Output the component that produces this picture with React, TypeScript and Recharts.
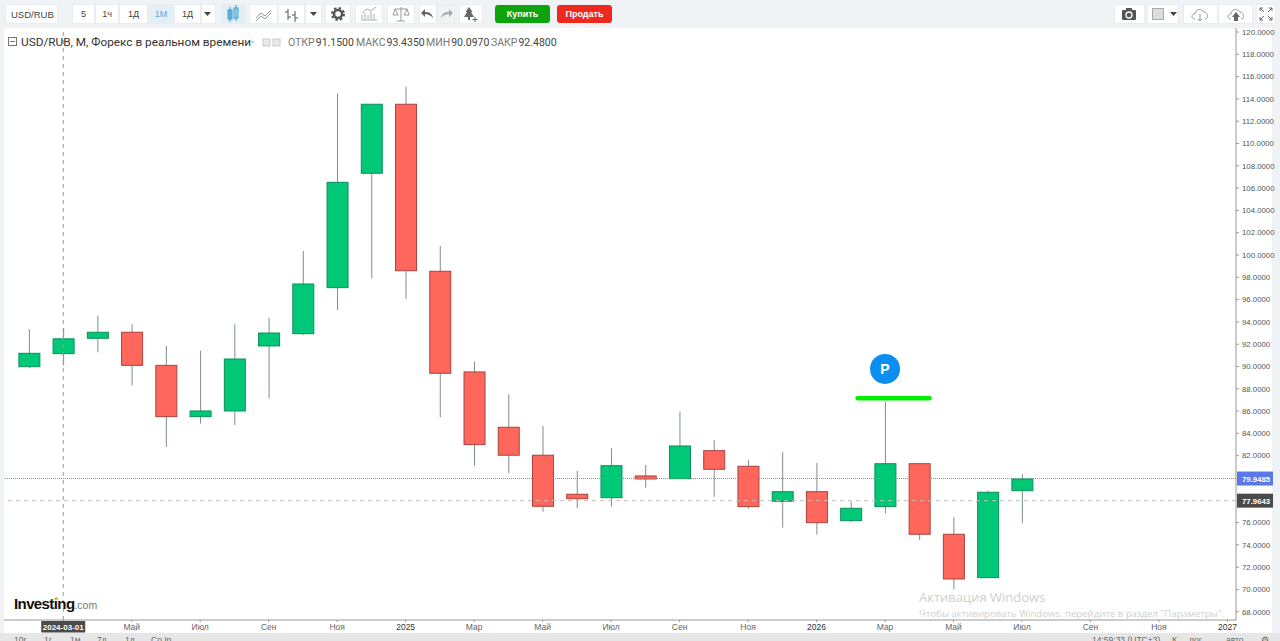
import React from 'react';
import {
    ComposedChart, Bar, XAxis, YAxis, ReferenceLine, ReferenceDot
} from 'recharts';

// months since 2024-02
const monthIndex = [0, 1, 2, 3, 4, 5, 6, 7, 8, 9, 10, 11, 12, 13, 14, 15, 16, 17, 18, 19, 20, 21, 22, 23, 24, 25, 26, 27, 28, 29];
const opens = [89.98, 91.15, 92.53, 93.07, 90.10, 85.50, 86.01, 91.84, 92.94, 97.07, 107.33, 113.52, 98.54, 89.51, 84.55, 82.04, 78.54, 78.23, 80.18, 79.94, 82.45, 81.05, 77.91, 78.77, 76.17, 77.43, 81.28, 74.95, 71.06, 78.86];
const highs = [93.34, 93.435, 94.56, 93.78, 91.84, 91.42, 93.78, 94.38, 100.36, 114.50, 113.52, 115.09, 100.81, 90.43, 87.51, 84.66, 80.63, 82.66, 81.17, 85.95, 83.41, 81.61, 82.30, 81.35, 77.87, 86.84, 81.28, 76.48, 78.86, 80.33];
const lows = [89.87, 90.097, 91.27, 88.31, 82.78, 84.87, 84.75, 87.15, 92.83, 95.07, 97.91, 96.05, 85.44, 81.10, 80.42, 76.98, 77.28, 77.43, 79.13, 79.94, 78.30, 77.25, 75.54, 74.91, 76.03, 76.83, 74.44, 70.02, 71.06, 75.94];
const closes = [91.18, 92.48, 93.07, 90.10, 85.50, 86.01, 90.67, 93.00, 97.40, 106.52, 113.52, 98.59, 89.39, 82.99, 82.04, 77.46, 78.14, 81.10, 79.91, 82.87, 80.78, 77.43, 78.77, 75.99, 77.28, 81.28, 74.95, 70.94, 78.72, 79.91];

const xTicks = [1, 3, 5, 7, 9, 11, 13, 15, 17, 19, 21, 23, 25, 27, 29, 31, 33, 35];
const xLabels = ['2024-03-01', 'Май', 'Июл', 'Сен', 'Ноя', '2025', 'Мар', 'Май', 'Июл', 'Сен', 'Ноя', '2026', 'Мар', 'Май', 'Июл', 'Сен', 'Ноя', '2027'];
// 78 and 80 sit under the price tags
const yTicks = [68, 70, 72, 74, 76, 82, 84, 86, 88, 90, 92, 94, 96, 98, 100, 102, 104, 106, 108, 110, 112, 114, 116, 118, 120];

const lastPrice = 79.9485;
const crossPrice = 77.9643;
const crossMonth = 1;
const signalPrice = 87.16;
const signalFrom = 24.2;
const signalTo = 26.3;
const markerMonth = 25;
const markerPrice = 89.78;

const candles = monthIndex.map((m, i) => ({
    m, open: opens[i], high: highs[i], low: lows[i], close: closes[i], range: [lows[i], highs[i]]
}));

const CHART_FONT = '"Liberation Sans", Arial, sans-serif';

const Candle = (props: any) => {
    const { x, y, width, height, payload } = props;
    const k = height / (payload.high - payload.low);
    const up = payload.close >= payload.open;
    const top = y + (payload.high - Math.max(payload.open, payload.close)) * k;
    const bodyH = Math.max(Math.abs(payload.close - payload.open) * k, 1);
    const cx = x + width / 2;
    return (
        <g>
            <line x1={cx} x2={cx} y1={y} y2={y + height} stroke="#7d8f89" strokeWidth={1} />
            <rect x={x} y={top} width={width} height={bodyH}
                fill={up ? '#00c876' : '#ff675d'} stroke={up ? '#0c8f5a' : '#a8433d'} strokeWidth={1} />
        </g>
    );
};

const XTick = (props: any) => {
    const { x, y, payload } = props;
    const label = xLabels[xTicks.indexOf(payload.value)];
    if (payload.value === crossMonth) {
        return (
            <g>
                <rect x={x - 22} y={y - 3} width={44} height={11.5} fill="#4a4a4a" />
                <text x={x} y={y + 6} textAnchor="middle" fontSize={8} fontWeight="bold" fill="#fff" fontFamily={CHART_FONT}>{label}</text>
            </g>
        );
    }
    const isYear = /^\d+$/.test(label);
    return (
        <text x={x} y={y + 6} textAnchor="middle" fontSize={8.5} fill={isYear ? '#333' : '#666'} fontFamily={CHART_FONT}>{label}</text>
    );
};

const PriceTag = (color: string, value: number) => (props: any) => {
    const { viewBox } = props;
    const px = viewBox.x + viewBox.width;
    return (
        <g>
            <rect x={px + 1} y={viewBox.y - 7} width={36} height={14} fill={color} />
            <text x={px + 6} y={viewBox.y + 3} fontSize={7.8} fontWeight="bold" fill="#fff" fontFamily={CHART_FONT}>{value.toFixed(4)}</text>
        </g>
    );
};

const PLabel = (props: any) => {
    const { viewBox } = props;
    const cx = viewBox.x + viewBox.width / 2;
    const cy = viewBox.y + viewBox.height / 2;
    return <text x={cx} y={cy + 5} textAnchor="middle" fontSize={14} fontWeight="bold" fill="#fff" fontFamily={CHART_FONT}>P</text>;
};

const box = (left: number, width: number, extra: any = {}): React.CSSProperties => ({
    position: 'absolute', left, top: 4, width, height: 20, background: '#fff', border: '1px solid #e9ecf0',
    boxSizing: 'border-box', textAlign: 'center', fontSize: 9, lineHeight: '19px', color: '#444',
    fontFamily: CHART_FONT, ...extra
});

const Tri = ({ x }: { x: number }) => (
    <svg style={{ position: 'absolute', left: x, top: 12 }} width={7} height={5}><path d="M0 0 L7 0 L3.5 4 Z" fill="#444" /></svg>
);

const Icon = ({ x, children }: { x: number, children: React.ReactNode }) => (
    <svg style={{ position: 'absolute', left: x - 10, top: 4 }} width={20} height={20}>{children}</svg>
);

const Toolbar = () => (
    <div>
        <div style={box(5, 53, { textAlign: 'left', paddingLeft: 5, fontSize: 9.5 })}>USD/RUB</div>
        <div style={box(72, 23)}>5</div>
        <div style={box(95, 24)}>1ч</div>
        <div style={box(119, 29)}>1Д</div>
        <div style={box(148, 26, { background: '#e3eef5', color: '#58a9d6' })}>1М</div>
        <div style={box(174, 27)}>1Д</div>
        <div style={box(201, 15)} />
        <Tri x={204} />

        <div style={box(221, 25, { background: '#e3eef5' })} />
        <Icon x={233}>
            <rect x={5} y={6} width={4} height={9} fill="#7fc4e8" stroke="#3d9bd0" />
            <rect x={11} y={4} width={4} height={10} fill="#cde8f6" stroke="#3d9bd0" />
            <path d="M7 3V18 M13 1V17" stroke="#3d9bd0" />
        </Icon>
        <div style={box(249, 29)} />
        <Icon x={264}><path d="M2 14 L7 9 L11 12 L17 6 M2 17 L7 12 L11 15 L17 9" stroke="#999" fill="none" /></Icon>
        <div style={box(278, 27)} />
        <Icon x={292}><path d="M6 16V5 M3 8H6 M6 13H9 M13 18V7 M10 11H13 M13 14H16" stroke="#555" fill="none" /></Icon>
        <div style={box(305, 17)} />
        <Tri x={310} />
        <div style={box(325, 26)} />
        <Icon x={338}>
            <circle cx={10} cy={10} r={4} fill="none" stroke="#555" strokeWidth={2.5} />
            <circle cx={10} cy={10} r={6} fill="none" stroke="#555" strokeWidth={2} strokeDasharray="2.5 2.2" />
        </Icon>
        <div style={box(355, 28)} />
        <Icon x={369}><path d="M2 16H18 M3 15V11 M6 15V9 M9 15V11 M12 15V8 M15 15V10 M3 9L8 5L12 7L17 3" stroke="#aaa" fill="none" /></Icon>
        <div style={box(387, 28)} />
        <Icon x={401}><path d="M10 3V17 M6 17H14 M4 5H16 M4 5L2 11H7Z M16 5L13 11H18Z" stroke="#999" fill="none" /></Icon>
        <div style={box(419, 18)} />
        <Icon x={428}><path d="M15 14C14 9 11 8 7 8V5L3 9L7 13V10C10 10 12 11 15 14Z" fill="#666" /></Icon>
        <div style={box(437, 18, { background: '#f0f3f6' })} />
        <Icon x={446}><path d="M5 14C6 9 9 8 13 8V5L17 9L13 13V10C10 10 8 11 5 14Z" fill="#aaa" /></Icon>
        <div style={box(459, 24)} />
        <Icon x={471}><path d="M8 3L11.5 8H10L13 13H3L6 8H4.5Z M7 13H9V16H7Z" fill="#666" /><path d="M14 13V18 M11.5 15.5H16.5" stroke="#666" /></Icon>

        <div style={box(495, 55, { top: 5, height: 18, background: '#0ca30c', border: 'none', borderRadius: 3, color: '#fff', fontWeight: 'bold', lineHeight: '18px' })}>Купить</div>
        <div style={box(557, 55, { top: 5, height: 18, background: '#ee2a1f', border: 'none', borderRadius: 3, color: '#fff', fontWeight: 'bold', lineHeight: '18px' })}>Продать</div>

        <div style={box(1114, 31)} />
        <Icon x={1129}>
            <rect x={3} y={6} width={14} height={10} rx={1} fill="#555" />
            <rect x={7} y={4} width={6} height={3} fill="#555" />
            <circle cx={10} cy={11} r={3} fill="none" stroke="#fff" strokeWidth={1.3} />
        </Icon>
        <div style={box(1147, 32)} />
        <div style={{ position: 'absolute', left: 1152, top: 8, width: 12, height: 12, background: '#ddd', border: '1px solid #aaa', boxSizing: 'border-box' }} />
        <Tri x={1170} />
        <div style={box(1183, 35)} />
        <Icon x={1200}><path d="M5 15C1 15 1 10 5 10C5 5 12 4 14 8C18 8 19 15 15 15 M10 10V17 M8 15L10 17L12 15" stroke="#999" fill="none" /></Icon>
        <div style={box(1218, 35)} />
        <Icon x={1236}><path d="M5 15C1 15 1 10 5 10C5 5 12 4 14 8C18 8 19 15 15 15" stroke="#999" fill="none" /><path d="M10 8L14 13H12V17H8V13H6Z" fill="#666" /></Icon>
        <div style={box(1256, 20)} />
        <Icon x={1266}><path d="M4 4L8 8 M4 4H7 M4 4V7 M16 4L12 8 M16 4H13 M16 4V7 M4 16L8 12 M4 16H7 M4 16V13 M16 16L12 12 M16 16H13 M16 16V13" stroke="#666" fill="none" /></Icon>
    </div>
);

const Ohlc = ({ x, name, value }: { x: number, name: string, value: string }) => (
    <span style={{ position: 'absolute', left: x, top: 36, fontSize: 10.5, color: '#777', fontFamily: 'Roboto, sans-serif', whiteSpace: 'nowrap' }}>
        {name}<span style={{ color: '#444', marginLeft: 1 }}>{value}</span>
    </span>
);

const Header = () => (
    <div>
        <svg style={{ position: 'absolute', left: 8, top: 37 }} width={10} height={10}>
            <rect x={0.5} y={0.5} width={8} height={8} fill="none" stroke="#777" />
            <path d="M2 4.5H7" stroke="#777" />
        </svg>
        <span style={{ position: 'absolute', left: 21, top: 35, fontSize: 11.8, color: '#333', fontFamily: 'Roboto, sans-serif', whiteSpace: 'nowrap' }}>
            USD/RUB, М, Форекс в реальном времени
        </span>
        <svg style={{ position: 'absolute', left: 250, top: 38 }} width={34} height={10}>
            <path d="M0 3H5L2.5 5.5Z" fill="#ccc" />
            <rect x={13} y={1} width={7} height={7} fill="#e8e8e8" stroke="#ccc" />
            <rect x={23} y={1} width={7} height={7} fill="#e8e8e8" stroke="#ccc" />
        </svg>
        <Ohlc x={288} name="ОТКР" value="91.1500" />
        <Ohlc x={356} name="МАКС" value="93.4350" />
        <Ohlc x={426} name="МИН" value="90.0970" />
        <Ohlc x={491} name="ЗАКР" value="92.4800" />
    </div>
);

const Logo = () => (
    <div style={{ position: 'absolute', left: 14, top: 595, fontFamily: CHART_FONT, whiteSpace: 'nowrap' }}>
        <span style={{ fontSize: 15, fontWeight: 'bold', color: '#111', letterSpacing: -0.6 }}>Investing</span>
        <span style={{ fontSize: 10.5, color: '#777' }}>.com</span>
        <div style={{ position: 'absolute', left: 41, top: 2, width: 3, height: 3, borderRadius: 2, background: '#f5b800' }} />
    </div>
);

const Watermark = () => (
    <div style={{ position: 'absolute', left: 919, top: 588, color: '#cfcfcf', fontFamily: '"Open Sans", sans-serif', whiteSpace: 'nowrap' }}>
        <div style={{ fontSize: 13, lineHeight: '18px' }}>Активация Windows</div>
        <div style={{ fontSize: 9.6, lineHeight: '15px' }}>Чтобы активировать Windows, перейдите в раздел "Параметры".</div>
    </div>
);

const bottomLeft = [['10г', 14], ['1г', 44], ['1м', 70], ['7д', 97], ['1д', 125], ['Со Iр', 151]] as [string, number][];
const bottomRight = [['14:59:33 (UTC+3)', 1092], ['К', 1172], ['лог', 1189], ['авто', 1226], ['⚙', 1261]] as [string, number][];

const Footer = () => (
    <div style={{ position: 'absolute', left: 0, top: 633, width: 1280, height: 8, background: '#e6e6e6', overflow: 'hidden', fontFamily: CHART_FONT, fontSize: 8.5, color: '#666' }}>
        {bottomLeft.concat(bottomRight).map(([t, x]) => (
            <span key={t} style={{ position: 'absolute', left: x, top: 2, whiteSpace: 'nowrap' }}>{t}</span>
        ))}
    </div>
);

export default function App() {
    return (
        <div style={{ position: 'absolute', left: 0, top: 0, width: 1280, height: 641, overflow: 'hidden', background: '#f0f3f6' }}>
            <div style={{ position: 'absolute', left: 4, top: 28, width: 1268, height: 605, background: '#fff' }} />
            <div style={{ position: 'absolute', left: 0, top: 0 }}>
                <ComposedChart width={1280} height={641} data={candles} margin={{ top: 28, right: 8, left: 4, bottom: 8 }}>
                    <XAxis
                        dataKey="m" type="number" domain={[-0.73, 35.25]} allowDataOverflow
                        ticks={xTicks} interval={0} height={13} tick={<XTick />}
                        stroke="#999" tickSize={2}
                    />
                    <YAxis
                        orientation="right" domain={[67.26, 120.36]} allowDataOverflow
                        ticks={yTicks} interval={0} width={36} stroke="#999" tickSize={3} tickMargin={3}
                        tick={{ fontSize: 7.8, fill: '#555', fontFamily: CHART_FONT, textAnchor: 'start' }}
                        tickFormatter={(v: number) => v.toFixed(4)}
                    />
                    <ReferenceLine x={crossMonth} stroke="#9a9a9a" strokeDasharray="4 4" />
                    <ReferenceLine y={lastPrice} stroke="#6f88f0" strokeDasharray="1 1" label={PriceTag('#5b78e8', lastPrice)} />
                    <ReferenceLine y={crossPrice} stroke="#c9bcbc" strokeDasharray="4 4" label={PriceTag('#4a4a4a', crossPrice)} />
                    <Bar dataKey="range" barSize={21} shape={<Candle />} isAnimationActive={false} />
                    <ReferenceLine
                        segment={[{ x: signalFrom, y: signalPrice }, { x: signalTo, y: signalPrice }]}
                        stroke="#00f000" strokeWidth={4.5} strokeLinecap="round"
                    />
                    <ReferenceDot x={markerMonth} y={markerPrice} r={15} fill="#0a8ff0" stroke="none" label={<PLabel />} />
                </ComposedChart>
            </div>
            <Toolbar />
            <Header />
            <Logo />
            <Watermark />
            <Footer />
        </div>
    );
}
